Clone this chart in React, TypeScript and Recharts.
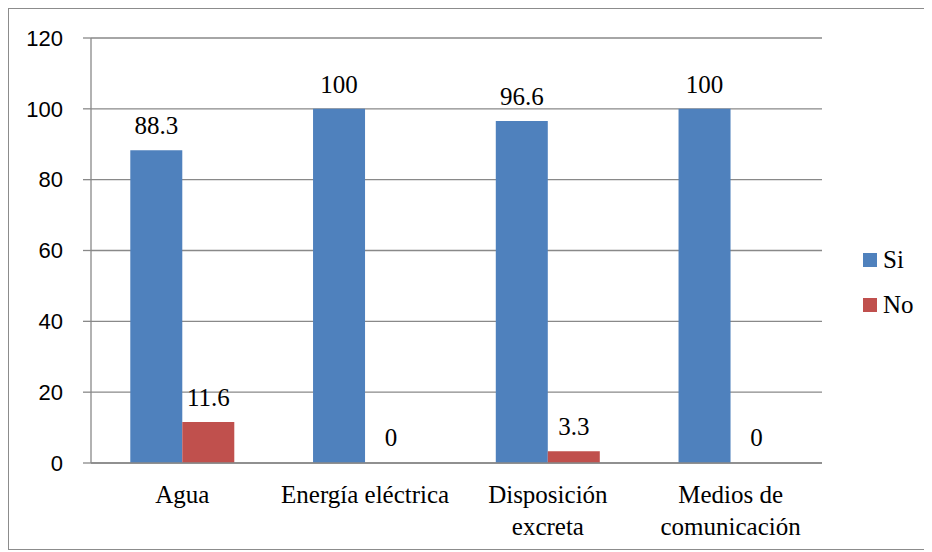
import { BarChart, Bar, XAxis, YAxis, CartesianGrid, LabelList, Cell } from "recharts";

const categories = ["Agua", "Energía eléctrica", "Disposición\nexcreta", "Medios de\ncomunicación"];
const siValues = [88.3, 100, 96.6, 100];
const noValues = [11.6, 0, 3.3, 0];
const yTicks = [0, 20, 40, 60, 80, 100, 120];
const edgeTicks = [0, 1, 2, 3, 4];

const series = [
  { key: "si", name: "Si", color: "#4F81BD", values: siValues },
  { key: "no", name: "No", color: "#C0504D", values: noValues },
];

const data = categories.map((name, i) => ({ name, si: siValues[i], no: noValues[i] }));

const GRID = "#898989";
const SERIF = "'Liberation Serif', 'DejaVu Serif', 'Noto Serif', Tinos, FreeSerif, Times, serif";

function CategoryTick(props: any) {
  const { x, y, payload } = props;
  const lines = String(payload.value).split("\n");
  return (
    <text x={x} y={y} textAnchor="middle" fill="#000" style={{ fontFamily: SERIF, fontSize: 25 }}>
      {lines.map((line, i) => (
        <tspan key={i} x={x} dy={i === 0 ? 40 : 31.5}>
          {line}
        </tspan>
      ))}
    </text>
  );
}

export default function App() {
  return (
    <div
      style={{
        position: "relative",
        width: 920,
        height: 540,
        border: "1px solid #8c8c8c",
        background: "#fff",
      }}
    >
      <BarChart
        width={920}
        height={540}
        data={data}
        margin={{ top: 29, right: 107, bottom: 0, left: 0 }}
        barCategoryGap="21.5%"
        barGap={0}
      >
        <CartesianGrid vertical={false} stroke={GRID} strokeWidth={1.3} />
        <XAxis
          xAxisId="edge"
          type="number"
          domain={[0, 4]}
          ticks={edgeTicks}
          tick={false}
          axisLine={false}
          tickLine={{ stroke: GRID, strokeWidth: 1.3 }}
          tickSize={8}
          height={0}
        />
        <XAxis
          dataKey="name"
          axisLine={{ stroke: GRID, strokeWidth: 1.3 }}
          tickLine={false}
          tickSize={0}
          tickMargin={0}
          height={86}
          interval={0}
          tick={<CategoryTick />}
        />
        <YAxis
          domain={[0, 120]}
          ticks={yTicks}
          width={82}
          axisLine={{ stroke: GRID, strokeWidth: 1.3 }}
          tickLine={{ stroke: GRID, strokeWidth: 1.3 }}
          tickSize={8}
          tickMargin={20}
          tick={{ fill: "#000", fontSize: 22, fontFamily: "'Liberation Sans', Arial, sans-serif" }}
        />
        {series.map((s) => (
          <Bar
            key={s.key}
            dataKey={s.key}
            name={s.name}
            fill={s.color}
            minPointSize={1}
            isAnimationActive={false}
          >
            {s.values.map((v, i) => (
              <Cell key={i} fill={s.color} fillOpacity={v === 0 ? 0 : 1} />
            ))}
            <LabelList
              dataKey={s.key}
              position="top"
              offset={16}
              fill="#000"
              style={{ fontFamily: SERIF, fontSize: 25 }}
            />
          </Bar>
        ))}
      </BarChart>
      <div style={{ position: "absolute", left: 854, top: 236, fontFamily: SERIF, fontSize: 25 }}>
        {series.map((s) => (
          <div key={s.key} style={{ display: "flex", alignItems: "center", height: 30, marginBottom: 15 }}>
            <span style={{ width: 14, height: 14, background: s.color, display: "inline-block", marginRight: 6 }} />
            <span style={{ color: "#000" }}>{s.name}</span>
          </div>
        ))}
      </div>
    </div>
  );
}
